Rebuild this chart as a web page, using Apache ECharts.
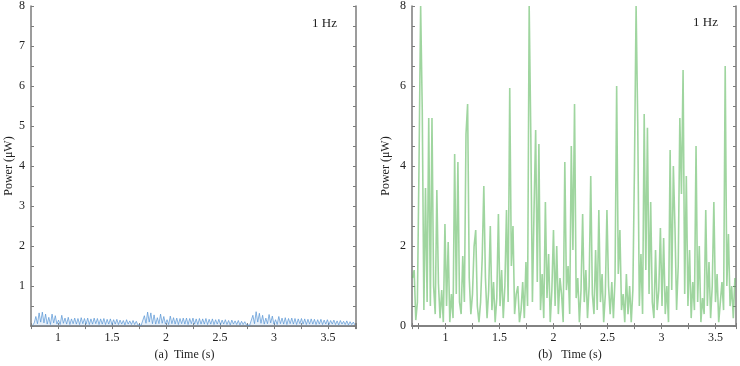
<!DOCTYPE html>
<html>
<head>
<meta charset="utf-8">
<script src="https://cdn.jsdelivr.net/npm/echarts@6/dist/echarts.min.js"></script>
<style>
  html, body { margin: 0; padding: 0; background: #fff; }
  #chart { width: 740px; height: 366px; }
</style>
</head>
<body>
<div id="chart"></div>
<script>
// sampled power traces, one value every sampleStep seconds
const sampleStep = 0.015;
const startA = 0.765;
const startB = 0.695;

const powerA = [
  0.02, 0.08,
  0.24, 0.06, 0.33, 0.1, 0.35, 0.08, 0.3, 0.05, 0.22, 0.04, 0.3, 0.08,
  0.26, 0.05, 0.15, 0.04, 0.27, 0.07, 0.2, 0.05, 0.22, 0.04, 0.18, 0.06,
  0.2, 0.05, 0.19, 0.04, 0.21, 0.06, 0.19, 0.05, 0.2, 0.04, 0.18, 0.05,
  0.2, 0.06, 0.19, 0.04, 0.18, 0.05, 0.19, 0.04, 0.17, 0.05, 0.18, 0.04,
  0.16, 0.05, 0.17, 0.04, 0.15, 0.05, 0.14, 0.03, 0.16, 0.05, 0.13, 0.04,
  0.14, 0.04, 0.12, 0.03, 0.05, 0.02, 0.06,
  0.26, 0.07, 0.35, 0.1, 0.33, 0.06, 0.28, 0.05, 0.21, 0.06, 0.3, 0.07,
  0.24, 0.05, 0.16, 0.04, 0.25, 0.06, 0.21, 0.05, 0.2, 0.04, 0.19, 0.06,
  0.2, 0.05, 0.2, 0.04, 0.19, 0.06, 0.2, 0.05, 0.18, 0.04, 0.19, 0.05,
  0.18, 0.05, 0.19, 0.04, 0.17, 0.05, 0.18, 0.04, 0.16, 0.05, 0.17, 0.04,
  0.15, 0.05, 0.16, 0.04, 0.14, 0.03, 0.15, 0.05, 0.13, 0.04, 0.14, 0.03,
  0.12, 0.04, 0.11, 0.03, 0.05, 0.02, 0.06,
  0.27, 0.06, 0.36, 0.1, 0.32, 0.07, 0.27, 0.05, 0.2, 0.06, 0.29, 0.08,
  0.25, 0.05, 0.16, 0.04, 0.24, 0.06, 0.2, 0.05, 0.21, 0.04, 0.19, 0.06,
  0.2, 0.05, 0.19, 0.04, 0.18, 0.06, 0.19, 0.05, 0.18, 0.04, 0.17, 0.05,
  0.18, 0.05, 0.17, 0.04, 0.16, 0.05, 0.17, 0.04, 0.15, 0.05, 0.16, 0.04,
  0.14, 0.05, 0.15, 0.04, 0.13, 0.03, 0.14, 0.05, 0.12, 0.04, 0.13, 0.03,
  0.11, 0.04, 0.1, 0.03
];

const powerB = [
  1.2, 1.4, 0.15, 0.6, 4.05, 8, 5.4, 0.4, 3.45, 0.6,
  5.2, 0.5, 5.2, 1.0, 0.3, 3.4, 1.05, 0.2, 0.9, 0.1,
  2.55, 0.5, 2.1, 0.1, 0.8, 0.2, 4.3, 0.8, 4.1, 0.6,
  0.3, 1.75, 0.6, 4.8, 5.55, 1.2, 0.3, 0.8, 2.0, 2.4,
  0.5, 0.1, 0.6, 1.7, 3.5, 1.2, 0.2, 0.9, 2.5, 0.4,
  1.1, 0.1, 0.7, 2.8, 0.5, 1.4, 0.2, 1.0, 2.9, 0.6,
  5.95, 1.5, 2.5, 0.3, 0.8, 1.0, 0.1, 0.4, 1.1, 0.2,
  1.6, 0.5, 8, 4.8, 0.6, 2.9, 4.9, 1.1, 4.55, 0.4,
  1.3, 0.2, 3.1, 0.7, 1.8, 0.1, 0.9, 2.4, 0.5, 2.0,
  0.3, 1.2, 0.8, 0.1, 4.1, 0.9, 1.5, 0.3, 4.5, 1.9,
  5.55, 0.7, 1.2, 0.1, 0.9, 2.8, 0.6, 1.4, 0.2, 1.0,
  3.75, 0.8, 0.3, 1.9, 0.4, 2.9, 0.6, 1.3, 0.1, 0.8,
  2.9, 1.0, 0.3, 1.1, 0.2, 1.2, 6.0, 1.3, 2.4, 0.4,
  0.8, 0.1, 1.3, 0.3, 1.0, 0.1, 0.9, 4.0, 8, 5.1,
  0.5, 1.8, 0.3, 5.3, 1.4, 4.96, 0.8, 3.1, 0.6, 0.2,
  1.9, 0.4, 0.9, 2.45, 0.5, 2.2, 0.3, 1.0, 0.1, 4.4,
  0.9, 4.0, 2.45, 0.4, 1.5, 5.2, 3.3, 6.4, 0.8, 3.75,
  0.5, 1.9, 0.2, 1.1, 0.4, 4.5, 0.6, 2.0, 0.1, 0.7,
  0.3, 2.9, 0.5, 1.6, 0.2, 1.0, 3.1, 0.6, 1.3, 0.1,
  0.6, 1.1, 0.4, 6.5, 1.0, 2.3, 0.5, 1.0, 0.2, 1.2
];

const timeRangeA = [0.75, 3.76];
const timeRangeB = [0.69, 3.69];
const xTitles = ['(a)  Time (s)', '(b)   Time (s)'];
const yTitle = 'Power (\u03bcW)';
const freqNote = '1 Hz';

const serif = 'Liberation Serif';
const axisGray = '#7b7b7b';
const textColor = '#222';

function toPoints(start, values) {
  return values.map((v, i) => [+(start + i * sampleStep).toFixed(4), v]);
}

function xAxes(gridIndex, range, title, shift) {
  const common = {
    type: 'value',
    gridIndex,
    min: range[0],
    max: range[1],
    splitNumber: 6,
    splitLine: { show: false },
    axisLine: { lineStyle: { color: axisGray, width: 1.5 } },
    axisTick: { inside: true, length: 3, lineStyle: { color: axisGray } },
    minorTick: { show: true, splitNumber: 2, length: 3, lineStyle: { color: axisGray } },
  };
  return [
    {
      ...common,
      position: 'bottom',
      name: title,
      nameLocation: 'middle',
      nameGap: 21,
      nameTextStyle: { fontFamily: serif, fontSize: 12, color: textColor, padding: [0, shift, 0, 0] },
      axisLabel: {
        showMinLabel: false, showMaxLabel: false,
        fontFamily: serif, fontSize: 12, color: textColor, margin: 6,
      },
    },
    { ...common, position: 'top', axisLabel: { show: false } },
  ];
}

function yAxes(gridIndex, interval, minor, showZero, gap) {
  const common = {
    type: 'value',
    gridIndex,
    min: 0,
    max: 8,
    interval,
    splitLine: { show: false },
    axisLine: { show: true, lineStyle: { color: axisGray, width: 1.5 } },
    axisTick: { show: true, inside: true, length: 3, lineStyle: { color: axisGray } },
    minorTick: { show: true, splitNumber: minor, length: 3, lineStyle: { color: axisGray } },
  };
  return [
    {
      ...common,
      position: 'left',
      name: yTitle,
      nameLocation: 'middle',
      nameGap: gap,
      nameTextStyle: { fontFamily: serif, fontSize: 12, color: textColor },
      axisLabel: { showMinLabel: showZero, fontFamily: serif, fontSize: 12, color: textColor, margin: 6 },
    },
    { ...common, position: 'right', axisLabel: { show: false } },
  ];
}

const chart = echarts.init(document.getElementById('chart'));

chart.setOption({
  animation: false,
  grid: [
    { left: 31, top: 5, width: 325, height: 324 },
    { left: 412, top: 5, width: 324, height: 324 },
  ],
  xAxis: [...xAxes(0, timeRangeA, xTitles[0], 18), ...xAxes(1, timeRangeB, xTitles[1], 8)],
  yAxis: [...yAxes(0, 1, 2, false, 16), ...yAxes(1, 2, 4, true, 20)],
  graphic: [
    { type: 'text', left: 312, top: 17, style: { text: freqNote, font: '13px "Liberation Serif"', fill: textColor } },
    { type: 'text', left: 693, top: 16, style: { text: freqNote, font: '13px "Liberation Serif"', fill: textColor } },
  ],
  series: [
    {
      type: 'line',
      xAxisIndex: 0,
      yAxisIndex: 0,
      data: toPoints(startA, powerA),
      showSymbol: false,
      lineStyle: { color: 'rgba(80,145,210,0.75)', width: 0.9 },
      areaStyle: { color: 'rgba(140,185,230,0.3)' },
    },
    {
      type: 'line',
      xAxisIndex: 2,
      yAxisIndex: 2,
      data: toPoints(startB, powerB),
      showSymbol: false,
      clip: true,
      lineStyle: { color: 'rgba(95,185,95,0.6)', width: 1.6 },
    },
  ],
});
</script>
</body>
</html>
